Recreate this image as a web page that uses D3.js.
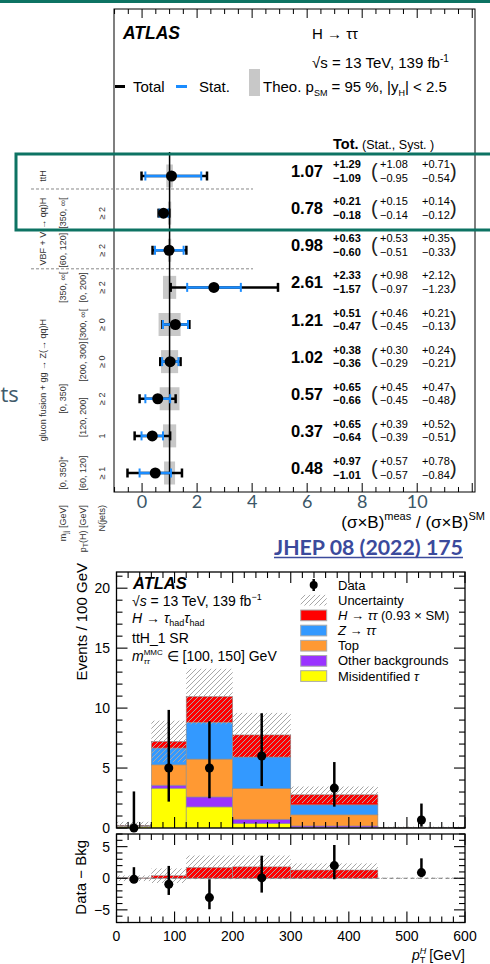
<!DOCTYPE html>
<html><head><meta charset="utf-8">
<script src="https://cdn.jsdelivr.net/npm/d3@7"></script>
<style>
body{margin:0;background:#fff;}
svg{display:block;font-family:"Liberation Sans",Arial,sans-serif;}
</style></head>
<body><svg id="c" width="490" height="964"></svg>
<script>
// ---------- Top chart data (cross-section ratios) ----------
const muCentral = [1.07, 0.78, 0.98, 2.61, 1.21, 1.02, 0.57, 0.37, 0.48];
const totUp  = [1.29, 0.21, 0.63, 2.33, 0.51, 0.38, 0.65, 0.65, 0.97];
const totDn  = [1.09, 0.18, 0.60, 1.57, 0.47, 0.36, 0.66, 0.64, 1.01];
const statUp = [1.08, 0.15, 0.53, 0.98, 0.46, 0.30, 0.45, 0.39, 0.57];
const statDn = [0.95, 0.14, 0.51, 0.97, 0.45, 0.29, 0.45, 0.39, 0.57];
const systUp = [0.71, 0.14, 0.35, 2.12, 0.21, 0.24, 0.47, 0.52, 0.78];
const systDn = [0.54, 0.12, 0.33, 1.23, 0.13, 0.21, 0.48, 0.51, 0.84];
const theoHalf = [0.12, 0.06, 0.06, 0.24, 0.40, 0.31, 0.36, 0.24, 0.20];
const groupLabels = [
  {text: "ttH", from: 0, to: 0},
  {text: "VBF + V(→ qq)H", from: 1, to: 2},
  {text: "gluon fusion + gg → Z(→ qq)H", from: 3, to: 8}
];
const mjjLabels = ["", "[350, ∞[", "[60, 120]", "[350, ∞[", "", "", "[0, 350]", "", "[0, 350]*"];
const ptLabels = [
  {text: "[0, 200]", from: 3, to: 3},
  {text: "[300, ∞[", from: 4, to: 4},
  {text: "[200, 300]", from: 5, to: 5},
  {text: "[120, 200]", from: 6, to: 7},
  {text: "[60, 120]", from: 8, to: 8}
];
const njLabels = ["", "≥ 2", "≥ 2", "≥ 2", "≥ 0", "≥ 0", "≥ 2", "1", "≥ 1"];
const separators = [0.35, 2.5];
const topTicks = [0, 2, 4, 6, 8, 10];

// ---------- Bottom chart data (pT^H distribution) ----------
const binEdges = [0, 60, 120, 200, 300, 450, 600];
const misid  = [0.15, 3.32, 1.76, 0.38, 0.05, 0.00];
const otherB = [0.02, 0.25, 0.83, 0.35, 0.12, 0.00];
const topBkg = [0.03, 1.70, 3.16, 2.57, 0.93, 0.02];
const ztt    = [0.00, 1.40, 3.06, 2.62, 0.83, 0.01];
const htt    = [0.02, 0.55, 2.15, 1.84, 0.84, 0.01];
const uncert = [0.30, 1.73, 2.32, 1.84, 0.69, 0.08];
const dataX  = [30, 90, 160, 250, 375, 525];
const dataY  = [0, 5, 5, 6, 3.33, 0.67];
const dataHi = [3.05, 9.85, 8.9, 9.57, 5.5, 2.04];
const dataLo = [0, 2.2, 2.48, 3.5, 1.78, 0.11];
const diffY  = [-0.15, -0.95, -3.06, 0.05, 2.0, 0.9];
const diffHi = [1.75, 1.95, -0.16, 3.57, 5.26, 3.15];
const diffLo = [-0.15, -2.64, -4.9, -2.27, -0.16, 0.15];
const sigRatio = [0.05, 0.40, 1.70, 1.80, 1.30, 0.00];
const bandLo = [-0.45, -0.75, -0.15, -0.15, -0.1, -0.1];
const bandHi = [0.45, 1.55, 3.6, 3.6, 2.35, 0.1];
const yTicksMain = [0, 5, 10, 15, 20];
const yTicksRatio = [-5, 0, 5];
const xTicksB = [0, 100, 200, 300, 400, 500, 600];

const svg = d3.select("#c");
const teal = "#0d7363";
const f2 = d3.format(".2f");

// defs: hatch
const defs = svg.append("defs");
const pat = defs.append("pattern").attr("id", "hatch").attr("patternUnits", "userSpaceOnUse")
  .attr("width", 5).attr("height", 5);
pat.append("path").attr("d", "M-1,1 l2,-2 M0,5 l5,-5 M4,6 l2,-2")
  .attr("stroke", "#a8a8a8").attr("stroke-width", 1);

// slide decorations
svg.append("rect").attr("x", 0).attr("y", 0).attr("width", 490).attr("height", 3).attr("fill", teal);
svg.append("text").attr("x", 0.5).attr("y", 402)
  .attr("font-family", "'Open Sans',sans-serif").attr("font-size", 22).attr("fill", "#415b6b").text("ts");

// rich text helper
function rich(sel, x, y, parts, base) {
  const t = sel.append("text").attr("x", x).attr("y", y);
  Object.entries(base || {}).forEach(([k, v]) => t.attr(k, v));
  let cur = 0;
  parts.forEach(p => {
    const dy = (p.dy || 0) - cur; cur = p.dy || 0;
    const s = t.append("tspan").attr("dy", dy).text(p.t);
    if (p.dx) s.attr("dx", p.dx);
    if (p.fs) s.attr("font-size", p.fs);
    if (p.it) s.attr("font-style", "italic");
    if (p.b) s.attr("font-weight", "bold");
  });
  return t;
}

// ================= TOP CHART =================
const T = {x0: 114, x1: 475, y0: 9, y1: 492};
const xT = d3.scaleLinear().domain([-1.02, 12.1]).range([T.x0, T.x1]);
const yR = d3.scaleLinear().domain([0, 8]).range([176, 473]);
const gT = svg.append("g");

gT.append("rect").attr("x", T.x0).attr("y", T.y0).attr("width", T.x1 - T.x0).attr("height", T.y1 - T.y0)
  .attr("fill", "none").attr("stroke", "#000").attr("stroke-width", 1);
d3.range(-1, 12.01, 0.5).forEach(v => {
  const major = Math.abs(v % 2) < 1e-9;
  const L = major ? 9 : 5;
  gT.append("line").attr("x1", xT(v)).attr("x2", xT(v)).attr("y1", T.y1).attr("y2", T.y1 - L).attr("stroke", "#000");
  gT.append("line").attr("x1", xT(v)).attr("x2", xT(v)).attr("y1", T.y0).attr("y2", T.y0 + L).attr("stroke", "#000");
});
topTicks.forEach(v => {
  gT.append("text").attr("x", xT(v)).attr("y", 508).attr("text-anchor", "middle")
    .attr("font-family", "Lato,'Open Sans',sans-serif").attr("font-size", 18).attr("fill", "#3b5667").text(v);
});
rich(gT, 485, 528, [
  {t: "(σ×B)"}, {t: "meas", fs: 11, dy: -8}, {t: " / (σ×B)", dy: 0}, {t: "SM", fs: 11, dy: -8}
], {"font-size": 17, "text-anchor": "end"});

// header texts
gT.append("text").attr("x", 123).attr("y", 39).attr("font-weight", "bold").attr("font-style", "italic")
  .attr("font-size", 17.5).text("ATLAS");
gT.append("text").attr("x", 312).attr("y", 39).attr("font-size", 15).text("H → ττ");
rich(gT, 312, 68, [{t: "√s = 13 TeV, 139 fb"}, {t: "-1", fs: 10, dy: -6}], {"font-size": 15});
gT.append("line").attr("x1", 115).attr("x2", 125).attr("y1", 86.5).attr("y2", 86.5).attr("stroke", "#000").attr("stroke-width", 3);
gT.append("text").attr("x", 133).attr("y", 92).attr("font-size", 15).text("Total");
gT.append("line").attr("x1", 176).attr("x2", 187).attr("y1", 86.5).attr("y2", 86.5).attr("stroke", "#1a8cff").attr("stroke-width", 3);
gT.append("text").attr("x", 199).attr("y", 92).attr("font-size", 15).text("Stat.");
gT.append("rect").attr("x", 249).attr("y", 69).attr("width", 11).attr("height", 27).attr("fill", "#c8c8c8");
rich(gT, 263, 92, [
  {t: "Theo. p"}, {t: "SM", fs: 9, dy: 4}, {t: " = 95 %, |y", dy: 0}, {t: "H", fs: 9, dy: 4}, {t: "| < 2.5", dy: 0}
], {"font-size": 15});
rich(gT, 333, 149, [{t: "Tot.", b: true, fs: 14.5}, {t: " (Stat., Syst. )", fs: 12.5}], {});

// separators
separators.forEach(s => {
  gT.append("line").attr("x1", 31).attr("x2", 253).attr("y1", yR(s)).attr("y2", yR(s))
    .attr("stroke", "#888").attr("stroke-width", 1).attr("stroke-dasharray", "3,2");
});

muCentral.forEach((c, i) => {
  const y = yR(i);
  gT.append("rect").attr("x", xT(1 - theoHalf[i])).attr("y", y - 11.5)
    .attr("width", xT(1 + theoHalf[i]) - xT(1 - theoHalf[i])).attr("height", 23).attr("fill", "#c8c8c8");
});
gT.append("line").attr("x1", xT(1)).attr("x2", xT(1)).attr("y1", 152).attr("y2", T.y1).attr("stroke", "#000").attr("stroke-width", 1.5);

muCentral.forEach((c, i) => {
  const y = yR(i);
  const lo = xT(c - totDn[i]), hi = xT(c + totUp[i]);
  gT.append("line").attr("x1", lo).attr("x2", hi).attr("y1", y).attr("y2", y).attr("stroke", "#000").attr("stroke-width", 2.5);
  [lo, hi].forEach(xx => gT.append("line").attr("x1", xx).attr("x2", xx).attr("y1", y - 4.5).attr("y2", y + 4.5)
    .attr("stroke", "#000").attr("stroke-width", 2.5));
  const slo = xT(c - statDn[i]), shi = xT(c + statUp[i]);
  gT.append("line").attr("x1", slo).attr("x2", shi).attr("y1", y).attr("y2", y).attr("stroke", "#1a8cff").attr("stroke-width", 2.5);
  [slo, shi].forEach(xx => gT.append("line").attr("x1", xx).attr("x2", xx).attr("y1", y - 4.5).attr("y2", y + 4.5)
    .attr("stroke", "#1a8cff").attr("stroke-width", 2));
  gT.append("circle").attr("cx", xT(c)).attr("cy", y).attr("r", 5.5).attr("fill", "#000");

  gT.append("text").attr("x", 323).attr("y", y + 1).attr("text-anchor", "end").attr("font-weight", "bold")
    .attr("font-size", 16.5).text(f2(c));
  gT.append("text").attr("x", 333).attr("y", y - 8).attr("font-weight", "bold").attr("font-size", 11).text("+" + f2(totUp[i]));
  gT.append("text").attr("x", 333).attr("y", y + 5.5).attr("font-weight", "bold").attr("font-size", 11).text("−" + f2(totDn[i]));
  gT.append("text").attr("x", 371).attr("y", y + 1.8).attr("font-size", 20).attr("fill", "#222").text("(");
  gT.append("text").attr("x", 380).attr("y", y - 8).attr("font-size", 11).text("+" + f2(statUp[i]));
  gT.append("text").attr("x", 380).attr("y", y + 5.5).attr("font-size", 11).text("−" + f2(statDn[i]));
  gT.append("text").attr("x", 422).attr("y", y - 8).attr("font-size", 11).text("+" + f2(systUp[i]));
  gT.append("text").attr("x", 422).attr("y", y + 5.5).attr("font-size", 11).text("−" + f2(systDn[i]));
  gT.append("text").attr("x", 450).attr("y", y + 1.8).attr("font-size", 20).attr("fill", "#222").text(")");
});

// left rotated labels
function rotLabel(x, y, txt, anchor) {
  return gT.append("text").attr("transform", `translate(${x},${y}) rotate(-90)`)
    .attr("text-anchor", anchor || "middle").attr("font-size", 9).attr("fill", "#333").text(txt);
}
groupLabels.forEach(d => rotLabel(46, (yR(d.from) + yR(d.to)) / 2, d.text));
mjjLabels.forEach((t, i) => { if (t) rotLabel(65.5, yR(i), t); });
ptLabels.forEach(d => rotLabel(85.5, (yR(d.from) + yR(d.to)) / 2, d.text));
njLabels.forEach((t, i) => { if (t) rotLabel(104.5, yR(i), t); });
// column titles
rich(gT, 0, 0, [{t: "m"}, {t: "jj", fs: 7, dy: 2.5}, {t: " [GeV]", dy: 0}],
  {"transform": "translate(65.5,505) rotate(-90)", "text-anchor": "end", "font-size": 9, "fill": "#333"});
rich(gT, 0, 0, [{t: "p"}, {t: "T", fs: 7, dy: 2.5}, {t: "(H) [GeV]", dy: 0}],
  {"transform": "translate(85.5,505) rotate(-90)", "text-anchor": "end", "font-size": 9, "fill": "#333"});
rotLabel(104.5, 505, "N(jets)", "end");

// highlight box
svg.append("rect").attr("x", 16).attr("y", 154).attr("width", 484).attr("height", 76)
  .attr("fill", "none").attr("stroke", teal).attr("stroke-width", 3);

// JHEP link
svg.append("text").attr("x", 274).attr("y", 555).attr("font-family", "Lato,'Open Sans',sans-serif")
  .attr("font-weight", "bold").attr("font-size", 21).attr("fill", "#3b4a9c")
  .attr("textLength", 189).attr("lengthAdjust", "spacingAndGlyphs").text("JHEP 08 (2022) 175");
svg.append("line").attr("x1", 274).attr("x2", 463).attr("y1", 557.5).attr("y2", 557.5).attr("stroke", "#3b4a9c").attr("stroke-width", 1.5);

// ================= BOTTOM CHART =================
const gB = svg.append("g");
const xB = d3.scaleLinear().domain([0, 600]).range([116.5, 465]);
const yB = d3.scaleLinear().domain([0, 21.35]).range([828, 572]);
const yQ = d3.scaleLinear().domain([-7, 7]).range([922.5, 834]);

const keys = ["misid", "other", "top", "ztt", "htt"];
const colors = {misid: "#ffff00", other: "#9933ff", top: "#ff9933", ztt: "#3399ff", htt: "#ff0000"};
const table = misid.map((_, i) => ({misid: misid[i], other: otherB[i], top: topBkg[i], ztt: ztt[i], htt: htt[i]}));
const stacked = d3.stack().keys(keys)(table);
stacked.forEach(layer => {
  layer.forEach((d, i) => {
    if (d[1] - d[0] <= 0) return;
    gB.append("rect").attr("x", xB(binEdges[i])).attr("width", xB(binEdges[i + 1]) - xB(binEdges[i]))
      .attr("y", yB(d[1])).attr("height", yB(d[0]) - yB(d[1]))
      .attr("fill", colors[layer.key]).attr("stroke", "#8c8c8c").attr("stroke-width", 0.6);
  });
});
const totals = table.map(r => keys.reduce((s, k) => s + r[k], 0));
totals.forEach((tot, i) => {
  const lo = Math.max(0, tot - uncert[i]), hi = tot + uncert[i];
  gB.append("rect").attr("x", xB(binEdges[i])).attr("width", xB(binEdges[i + 1]) - xB(binEdges[i]))
    .attr("y", yB(hi)).attr("height", yB(lo) - yB(hi)).attr("fill", "url(#hatch)");
});
dataX.forEach((x, i) => {
  gB.append("line").attr("x1", xB(x)).attr("x2", xB(x)).attr("y1", yB(dataLo[i])).attr("y2", yB(dataHi[i]))
    .attr("stroke", "#000").attr("stroke-width", 2.5);
  gB.append("circle").attr("cx", xB(x)).attr("cy", yB(dataY[i])).attr("r", 4.5).attr("fill", "#000");
});

// ratio panel
sigRatio.forEach((s, i) => {
  if (s <= 0) return;
  gB.append("rect").attr("x", xB(binEdges[i])).attr("width", xB(binEdges[i + 1]) - xB(binEdges[i]))
    .attr("y", yQ(s)).attr("height", yQ(0) - yQ(s)).attr("fill", "#ff0000").attr("stroke", "#8c8c8c").attr("stroke-width", 0.5);
});
bandLo.forEach((lo, i) => {
  gB.append("rect").attr("x", xB(binEdges[i])).attr("width", xB(binEdges[i + 1]) - xB(binEdges[i]))
    .attr("y", yQ(bandHi[i])).attr("height", yQ(lo) - yQ(bandHi[i])).attr("fill", "url(#hatch)");
});
gB.append("line").attr("x1", xB(0)).attr("x2", xB(600)).attr("y1", yQ(0)).attr("y2", yQ(0))
  .attr("stroke", "#777").attr("stroke-width", 1).attr("stroke-dasharray", "4,3");
dataX.forEach((x, i) => {
  gB.append("line").attr("x1", xB(x)).attr("x2", xB(x)).attr("y1", yQ(diffLo[i])).attr("y2", yQ(diffHi[i]))
    .attr("stroke", "#000").attr("stroke-width", 2.5);
  gB.append("circle").attr("cx", xB(x)).attr("cy", yQ(diffY[i])).attr("r", 4.5).attr("fill", "#000");
});

// frames and ticks
function panel(yS, yDom, yStep, yMajor) {
  const [y0, y1] = [yS(yDom[1]), yS(yDom[0])];
  gB.append("rect").attr("x", xB(0)).attr("y", y0).attr("width", xB(600) - xB(0)).attr("height", y1 - y0)
    .attr("fill", "none").attr("stroke", "#000").attr("stroke-width", 1.3);
  d3.range(0, 600.1, 20).forEach(v => {
    const L = v % 100 === 0 ? 11 : 6;
    gB.append("line").attr("x1", xB(v)).attr("x2", xB(v)).attr("y1", y1).attr("y2", y1 - L).attr("stroke", "#000").attr("stroke-width", 1.1);
    gB.append("line").attr("x1", xB(v)).attr("x2", xB(v)).attr("y1", y0).attr("y2", y0 + L).attr("stroke", "#000").attr("stroke-width", 1.1);
  });
  d3.range(Math.ceil(yDom[0]), yDom[1] + 0.001, yStep).forEach(v => {
    const L = v % yMajor === 0 ? 11 : 6;
    gB.append("line").attr("x1", xB(0)).attr("x2", xB(0) + L).attr("y1", yS(v)).attr("y2", yS(v)).attr("stroke", "#000").attr("stroke-width", 1.1);
    gB.append("line").attr("x1", xB(600)).attr("x2", xB(600) - L).attr("y1", yS(v)).attr("y2", yS(v)).attr("stroke", "#000").attr("stroke-width", 1.1);
  });
}
panel(yB, yB.domain(), 1, 5);
panel(yQ, yQ.domain(), 1, 5);

yTicksMain.forEach(v => gB.append("text").attr("x", 110).attr("y", yB(v) + 5).attr("text-anchor", "end").attr("font-size", 14).text(v));
yTicksRatio.forEach(v => gB.append("text").attr("x", 110).attr("y", yQ(v) + 5).attr("text-anchor", "end").attr("font-size", 14).text(v < 0 ? "−" + Math.abs(v) : v));
xTicksB.forEach(v => gB.append("text").attr("x", xB(v)).attr("y", 941).attr("text-anchor", "middle").attr("font-size", 14).text(v));

// axis titles
rich(gB, 465, 960, [{t: "p", it: true}, {t: "H", fs: 9, dy: -6, it: true}, {t: "T", fs: 9, dy: 3, dx: -6.5}, {t: " [GeV]", dy: 0}],
  {"text-anchor": "end", "font-size": 14});
gB.append("text").attr("transform", "translate(87,563) rotate(-90)").attr("text-anchor", "end").attr("font-size", 15).text("Events / 100 GeV");
gB.append("text").attr("transform", "translate(86,840) rotate(-90)").attr("text-anchor", "end").attr("font-size", 15).text("Data − Bkg");

// in-plot text
gB.append("text").attr("x", 133).attr("y", 589).attr("font-weight", "bold").attr("font-style", "italic").attr("font-size", 16.5).text("ATLAS");
rich(gB, 132, 606, [{t: "√"}, {t: "s", it: true}, {t: " = 13 TeV, 139 fb"}, {t: "−1", fs: 9, dy: -6}], {"font-size": 14});
rich(gB, 132, 623, [{t: "H", it: true}, {t: " → "}, {t: "τ", it: true}, {t: "had", fs: 9, dy: 3}, {t: "τ", it: true, dy: 0}, {t: "had", fs: 9, dy: 3}], {"font-size": 14});
gB.append("text").attr("x", 132).attr("y", 643).attr("font-size", 14).text("ttH_1 SR");
{
  const t = rich(gB, 132, 661, [{t: "m", it: true}, {t: "MMC", fs: 8, dy: -6}], {"font-size": 14});
  const mmcW = t.selectAll("tspan").nodes()[1].getComputedTextLength();
  const s1 = t.append("tspan").attr("dx", -mmcW).attr("dy", 9).attr("font-size", 8).attr("font-style", "italic").text("ττ");
  const ttW = s1.node().getComputedTextLength();
  t.append("tspan").attr("dx", Math.max(0, mmcW - ttW)).attr("dy", -3).text(" ∈ [100, 150] GeV");
}

// legend
const legItems = [
  {type: "data", parts: [{t: "Data"}]},
  {type: "hatch", parts: [{t: "Uncertainty"}]},
  {type: "box", color: colors.htt, parts: [{t: "H", it: true}, {t: " → "}, {t: "ττ", it: true}, {t: " (0.93 × SM)"}]},
  {type: "box", color: colors.ztt, parts: [{t: "Z", it: true}, {t: " → "}, {t: "ττ", it: true}]},
  {type: "box", color: colors.top, parts: [{t: "Top"}]},
  {type: "box", color: colors.other, parts: [{t: "Other backgrounds"}]},
  {type: "box", color: colors.misid, parts: [{t: "Misidentified "}, {t: "τ", it: true}]}
];
const legY = d3.scaleLinear().domain([0, 6]).range([585, 676]);
legItems.forEach((d, i) => {
  const y = legY(i);
  if (d.type === "data") {
    gB.append("line").attr("x1", 313.7).attr("x2", 313.7).attr("y1", y - 6).attr("y2", y + 6).attr("stroke", "#000").attr("stroke-width", 2.5);
    gB.append("circle").attr("cx", 313.7).attr("cy", y).attr("r", 4).attr("fill", "#000");
  } else if (d.type === "hatch") {
    gB.append("rect").attr("x", 300.7).attr("y", y - 5.3).attr("width", 26).attr("height", 10.7).attr("fill", "url(#hatch)");
  } else {
    gB.append("rect").attr("x", 300.7).attr("y", y - 5.3).attr("width", 26).attr("height", 10.7)
      .attr("fill", d.color).attr("stroke", "#aaa").attr("stroke-width", 1);
  }
  rich(gB, 338, y + 4.5, d.parts, {"font-size": 13});
});
</script>
</body></html>
